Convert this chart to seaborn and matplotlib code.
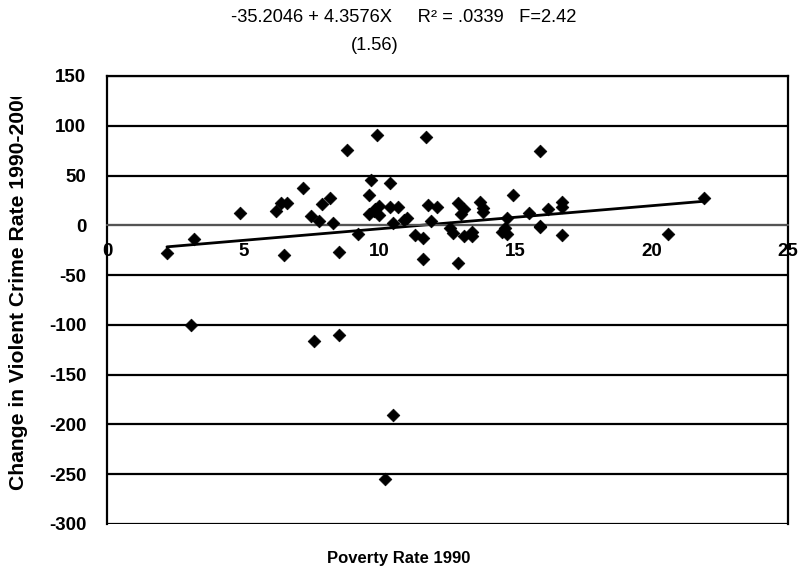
import numpy as np
import pandas as pd
import matplotlib
matplotlib.use("Agg")
import matplotlib.pyplot as plt
import seaborn as sns
from matplotlib.transforms import Bbox, TransformedBbox

# Data
poverty = [2.2, 3.2, 4.9, 6.2, 6.4, 6.6, 6.5, 7.2, 7.5, 7.8, 7.9, 8.2, 8.3, 8.5,
           8.8, 9.2, 9.6, 9.7, 9.6, 9.8, 9.9, 9.85, 10.0, 10.0, 10.4, 10.4, 10.7,
           10.5, 10.9, 11.0, 11.3, 11.6, 11.6, 11.7, 11.8, 12.1, 11.9, 12.6, 12.7,
           12.9, 12.9, 13.1, 13.0, 13.1, 13.4, 13.4, 13.7, 13.8, 13.8, 14.5, 14.6,
           14.7, 14.7, 14.9, 15.5, 15.9, 15.9, 15.9, 16.2, 16.7, 16.7, 16.7, 20.6,
           21.9, 3.1, 7.6, 8.5, 10.5, 10.2]
change = [-28, -14, 12, 14, 22, 22, -30, 38, 9, 4, 21, 27, 2, -27,
          76, -9, 30, 46, 11, 14, 91, 16, 19, 10, 43, 18, 18,
          2, 5, 7, -10, -13, -34, 89, 20, 18, 4, -3, -8,
          22, -38, 16, 11, -11, -7, -11, 23, 17, 13, -7, -3,
          7, -9, 30, 12, -1, -2, 75, 16, 23, 18, -10, -9,
          27, -100, -116, -110, -191, -255]

x_ticks = [0, 5, 10, 15, 20, 25]
y_ticks = [-300, -250, -200, -150, -100, -50, 0, 50, 100, 150]

title_line1 = "-35.2046 + 4.3576X     R\u00b2 = .0339   F=2.42"
title_line2 = "(1.56)"
x_label = "Poverty Rate 1990"
y_label = "Change in Violent Crime Rate 1990-2000"

sns.set_theme(style="white")
plt.rcParams["font.family"] = ["Liberation Sans", "DejaVu Sans"]

fig = plt.figure(figsize=(8.04, 5.77), dpi=100)
ax = fig.add_axes([107 / 804, 1 - 524 / 577, (788 - 107) / 804, (524 - 76) / 577])

df = pd.DataFrame({"poverty": poverty, "change": change})
sns.regplot(data=df, x="poverty", y="change", scatter=False, ci=None,
            color="black", line_kws={"lw": 2}, ax=ax)
sns.scatterplot(data=df, x="poverty", y="change", marker="D", s=42,
                color="black", edgecolor="black", linewidth=0.5, ax=ax,
                zorder=4, legend=False)

ax.set_xlim(0, 25)
ax.set_ylim(-300, 150)

ax.yaxis.grid(True, color="black", lw=1.6)
ax.xaxis.grid(False)
ax.set_axisbelow(True)
for side in ["left", "right", "top", "bottom"]:
    ax.spines[side].set_visible(True)
    ax.spines[side].set_color("black")
    ax.spines[side].set_linewidth(1.6)
ax.spines["bottom"].set_position(("data", 0))
ax.spines["bottom"].set_color("#666666")
ax.spines["bottom"].set_linewidth(1.2)

ax.set_xticks(x_ticks)
ax.set_yticks(y_ticks)
ax.set_xticklabels([str(v) for v in x_ticks])
ax.set_yticklabels([str(v) for v in y_ticks])
ax.set_xlabel("")
ax.set_ylabel("")
ax.tick_params(axis="both", which="both", direction="out", length=6, width=1.2,
               color="black", labelcolor="black", labelsize=13.5)
ax.tick_params(axis="x", pad=7)
ax.tick_params(axis="y", pad=9)
for lab in ax.get_xticklabels() + ax.get_yticklabels():
    lab.set_fontweight("bold")

fig.text(404 / 804, 1 - 17 / 577, title_line1, ha="center", va="center", fontsize=13.2,
         color="black")
fig.text(375 / 804, 1 - 46 / 577, title_line2, ha="center", va="center", fontsize=13.2,
         color="black")
fig.text(399 / 804, 1 - 558 / 577, x_label, ha="center", va="center", fontsize=12,
         fontweight="bold", color="black")
ylab = fig.text(19 / 804, 1 - 490 / 577, y_label, ha="center", va="bottom", fontsize=15.2,
                fontweight="bold", rotation=90, color="black")
clip = TransformedBbox(Bbox([[0, 0], [60 / 804, 1 - 97 / 577]]), fig.transFigure)
ylab.set_clip_box(clip)
ylab.set_clip_on(True)

fig.savefig("out.png", dpi=100)
